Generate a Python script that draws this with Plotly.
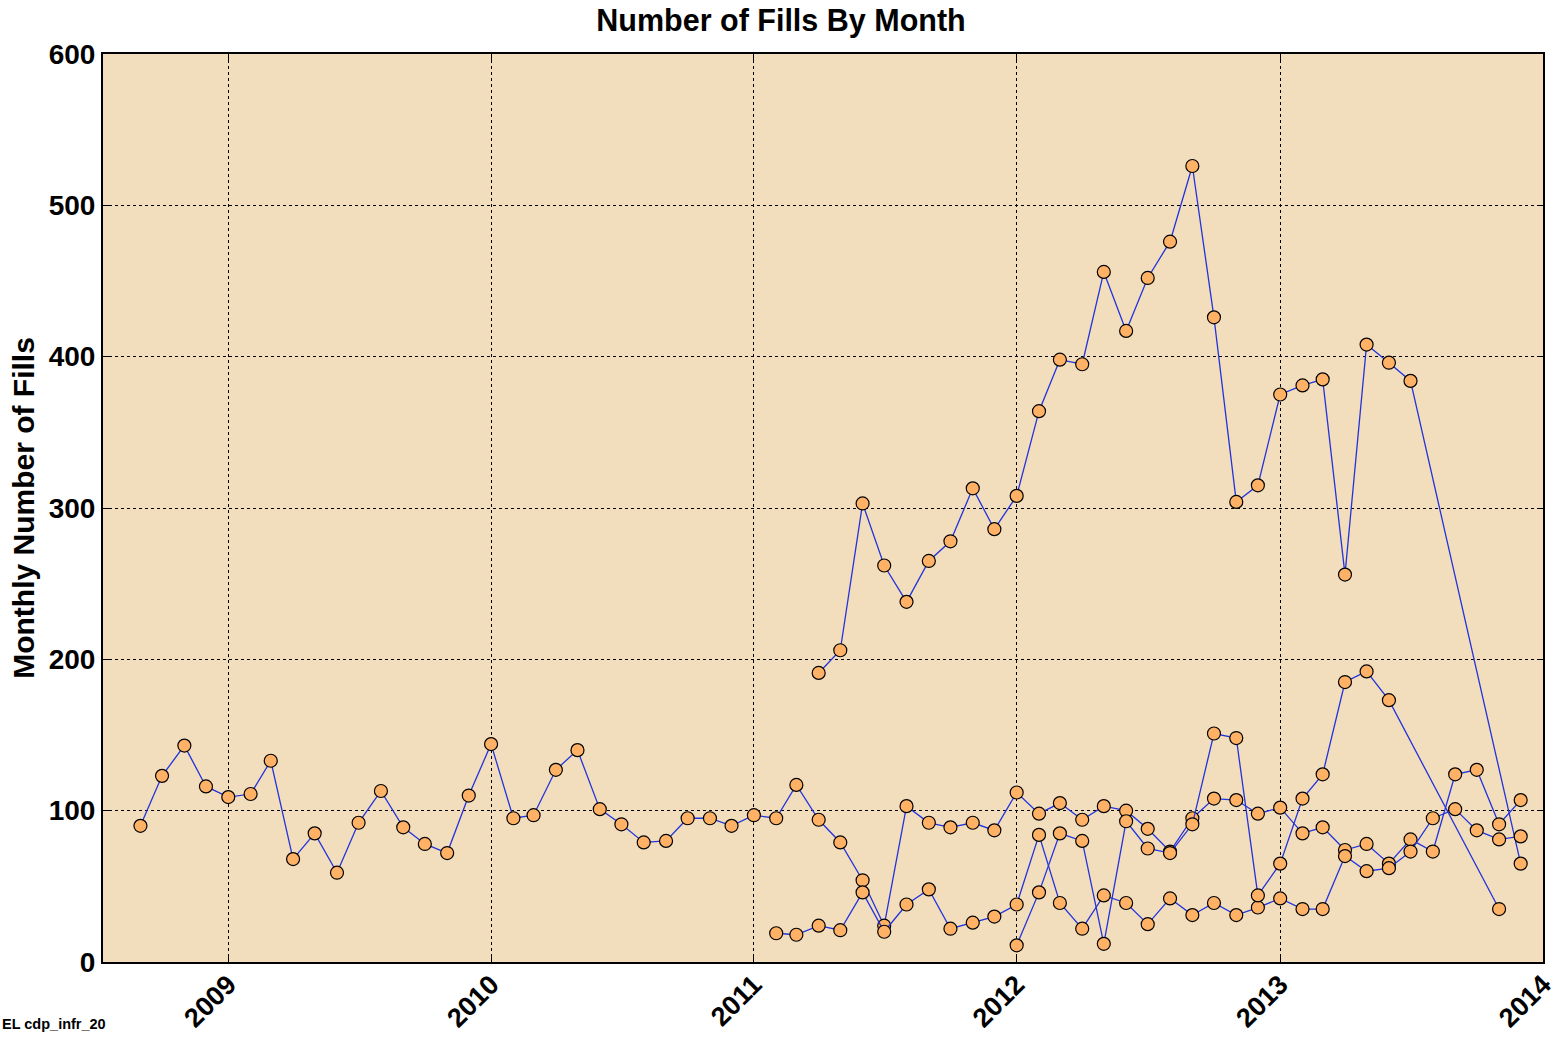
import plotly.graph_objects as go
import pandas as pd

# ---- data (monthly fill counts) ----
a_dates = list(pd.date_range("2008-09-01", "2013-12-01", freq="MS"))
a_values = [90, 123, 143, 116,
            109, 111, 133, 68, 85, 59, 92, 113, 89, 78, 72, 110,
            144, 95, 97, 127, 140, 101, 91, 79, 80, 95, 95, 90,
            97, 95, 117, 94, 79, 54, 24, 103, 92, 89, 92, 87,
            112, 98, 105, 94, 103, 100, 88, 73, 95, 108, 107, 98,
            102, 85, 89, 74, 78, 65, 81, 73, 124, 127, 91, 107]

b_dates = list(pd.date_range("2011-04-01", "2013-07-01", freq="MS")) + [pd.Timestamp("2013-12-01")]
b_values = [191, 206, 303, 262, 238, 265, 278, 313, 286,
            308, 364, 398, 395, 456, 417, 452, 476, 526, 426, 304, 315,
            375, 381, 385, 256, 408, 396, 384,
            65]

c_dates = list(pd.date_range("2011-02-01", "2013-12-01", freq="MS"))
c_values = [19, 18, 24, 21, 46, 20, 38, 48, 22, 26, 30,
            38, 84, 39, 22, 44, 39, 25, 42, 31, 39, 31, 36,
            42, 35, 35, 70, 60, 62, 73, 95, 101, 87, 81, 83]

d_dates = list(pd.date_range("2012-01-01", "2013-06-01", freq="MS")) + [pd.Timestamp("2013-11-01")]
d_values = [11, 46, 85, 80, 12, 93, 75, 72, 91, 151, 148, 44,
            65, 108, 124, 185, 192, 173,
            35]

year_ticks = ["2009-01-01", "2010-01-01", "2011-01-01", "2012-01-01", "2013-01-01", "2014-01-01"]
year_labels = ["2009", "2010", "2011", "2012", "2013", "2014"]
y_ticks = [0, 100, 200, 300, 400, 500, 600]

LINE = "#2233DD"
FILL = "#FFB266"
FONT = "Liberation Sans, Arial, sans-serif"

fig = go.Figure()
for xs, ys in [(a_dates, a_values), (b_dates, b_values), (c_dates, c_values), (d_dates, d_values)]:
    fig.add_trace(go.Scatter(
        x=xs, y=ys, mode="lines+markers",
        line=dict(color=LINE, width=1.3),
        marker=dict(size=13, color=FILL, line=dict(color="black", width=1.2)),
        showlegend=False, cliponaxis=False,
    ))

fig.update_layout(
    width=1562, height=1037, autosize=False,
    margin=dict(l=103, r=19, t=54, b=75),
    paper_bgcolor="white", plot_bgcolor="#F2DEBC",
    title=dict(text="<b>Number of Fills By Month</b>", x=0.5, xanchor="center",
               y=0.98, yanchor="middle", automargin=False,
               font=dict(family=FONT, size=30.5, color="black")),
    font=dict(family=FONT, color="black"),
)

fig.update_xaxes(
    range=["2008-07-11", "2014-01-01"], automargin=False,
    tickvals=year_ticks, ticktext=year_labels, tickangle=-45, ticklabelstandoff=-6,
    tickfont=dict(family=FONT, size=27, color="black", weight="bold"),
    showgrid=True, gridcolor="black", griddash="dot", gridwidth=1,
    showline=True, linecolor="black", linewidth=2, mirror="ticks",
    ticks="inside", ticklen=6, tickcolor="black", zeroline=False,
)
fig.update_yaxes(
    range=[0, 600], tickvals=y_ticks, automargin=False,
    tickfont=dict(family=FONT, size=28, color="black", weight="bold"),
    title=dict(text="<b>Monthly Number of Fills</b>", font=dict(family=FONT, size=30, color="black"),
               standoff=5),
    showgrid=True, gridcolor="black", griddash="dot", gridwidth=1,
    showline=True, linecolor="black", linewidth=2, mirror="ticks",
    ticks="inside", ticklen=6, tickcolor="black", zeroline=False,
)

fig.add_annotation(text="<b>EL cdp_infr_20</b>", xref="paper", yref="paper",
                   x=-103 / 1440, y=-62 / 908, xanchor="left", yanchor="middle",
                   showarrow=False, font=dict(family=FONT, size=14.5, color="black"))

fig.write_html("out.html", config={"displayModeBar": False},
               post_script="document.body.style.margin='0';document.body.style.overflow='hidden';")
